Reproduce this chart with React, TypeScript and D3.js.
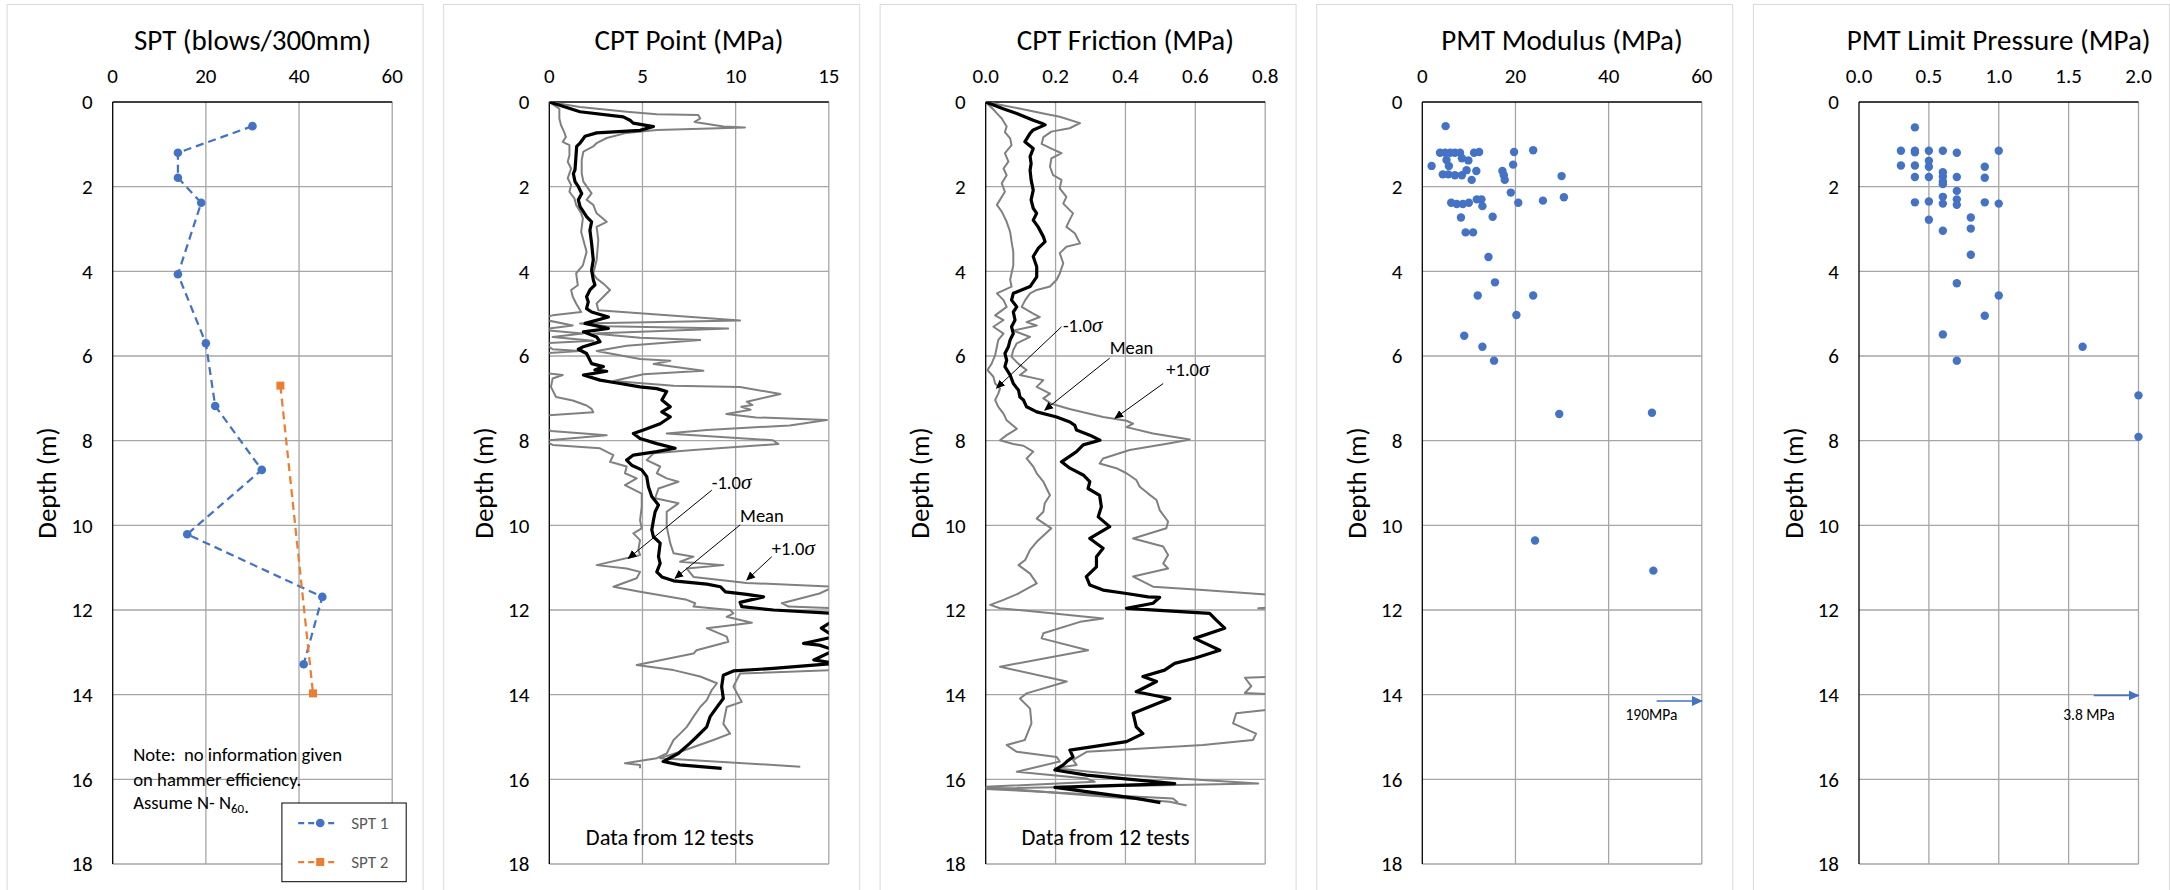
import React, { useEffect } from 'react';
import * as d3 from 'd3';

// ---------------- DATA ----------------
const depthTicks = [0, 2, 4, 6, 8, 10, 12, 14, 16, 18];
const sptTicks = [0, 20, 40, 60];
const cptPointTicks = [0, 5, 10, 15];
const cptFrictionTicks = [0, 0.2, 0.4, 0.6, 0.8];
const pmtModTicks = [0, 20, 40, 60];
const pmtLimitTicks = [0, 0.5, 1.0, 1.5, 2.0];

// [value, depth]
const spt1 = [[30, 0.57], [14, 1.2], [14, 1.79], [19, 2.38], [14, 4.07], [20, 5.7], [22, 7.18], [32, 8.69], [16, 10.21], [45, 11.69], [41, 13.28]];
const spt2 = [[36, 6.7], [43, 13.97]];

const cptPointMean = [[0, 0], [1.65, 0.23], [3.97, 0.35], [4.33, 0.43], [4.5, 0.5], [5.59, 0.58], [4.87, 0.67], [2.54, 0.73], [1.92, 0.81], [1.65, 0.97], [1.47, 1.05], [1.43, 1.29], [1.38, 1.6], [1.29, 1.69], [1.38, 1.88], [1.56, 2.0], [1.74, 2.16], [1.56, 2.31], [1.65, 2.47], [2.0, 2.71], [2.27, 2.83], [2.18, 3.03], [2.27, 3.34], [2.36, 3.73], [2.27, 3.97], [2.36, 4.2], [2.45, 4.32], [2.18, 4.44], [2.0, 4.6], [2.09, 4.72], [2.0, 4.88], [2.27, 4.96], [3.17, 5.08], [1.92, 5.23], [3.17, 5.35], [1.83, 5.43], [2.54, 5.55], [2.72, 5.66], [1.83, 5.78], [1.56, 5.84], [2.0, 5.94], [2.27, 6.18], [2.9, 6.25], [2.45, 6.33], [3.08, 6.36], [1.83, 6.45], [2.72, 6.57], [3.8, 6.65], [4.87, 6.73], [5.77, 6.77], [6.3, 6.84], [6.04, 7.04], [6.49, 7.2], [6.04, 7.32], [6.49, 7.44], [5.95, 7.6], [5.05, 7.75], [4.51, 7.83], [4.87, 7.95], [5.77, 8.07], [6.75, 8.18], [5.76, 8.26], [4.51, 8.34], [4.15, 8.46], [4.42, 8.58], [4.96, 8.69], [5.23, 8.85], [5.32, 9.09], [5.5, 9.32], [5.86, 9.52], [5.68, 9.68], [5.59, 9.88], [5.5, 10.11], [5.59, 10.27], [5.95, 10.42], [5.86, 10.74], [5.95, 10.9], [5.77, 11.1], [6.04, 11.22], [6.67, 11.31], [8.46, 11.39], [9.18, 11.45], [9.45, 11.57], [10.6, 11.63], [11.5, 11.69], [10.24, 11.82], [10.33, 11.92], [12.03, 12.0], [15.3, 12.08], [15.3, 12.24], [14.6, 12.43], [15.3, 12.63], [13.64, 12.79], [14.5, 12.83], [15.3, 12.95], [14.2, 13.18], [15.3, 13.26], [12.03, 13.38], [9.88, 13.44], [9.34, 13.54], [9.25, 13.81], [9.34, 14.09], [9.07, 14.25], [8.63, 14.52], [8.45, 14.76], [7.9, 15.0], [7.54, 15.15], [6.92, 15.39], [6.11, 15.58], [7.0, 15.66], [9.25, 15.74]];

const cptPointPlus = [[0, 0], [1.65, 0.12], [4.15, 0.23], [5.77, 0.29], [8.0, 0.31], [8.1, 0.39], [7.8, 0.47], [9.35, 0.58], [10.5, 0.6], [5.77, 0.66], [4.15, 0.73], [3.08, 0.85], [2.54, 0.97], [2.36, 1.05], [1.83, 1.17], [1.74, 1.37], [1.74, 1.69], [1.83, 1.88], [2.27, 2.16], [2.0, 2.31], [2.36, 2.43], [2.54, 2.63], [3.08, 2.83], [2.54, 2.95], [2.63, 3.26], [2.54, 3.73], [2.36, 4.05], [2.54, 4.17], [2.9, 4.29], [3.26, 4.44], [2.9, 4.6], [2.54, 4.76], [2.63, 4.92], [10.24, 5.16], [1.65, 5.23], [3.08, 5.3], [9.6, 5.35], [2.36, 5.47], [4.87, 5.57], [8.1, 5.62], [4.15, 5.76], [2.54, 5.88], [4.87, 6.07], [6.5, 6.11], [5.6, 6.19], [8.27, 6.35], [5.05, 6.43], [3.44, 6.59], [6.67, 6.7], [10.24, 6.73], [12.4, 6.9], [10.6, 7.08], [10.9, 7.16], [10.3, 7.2], [10.8, 7.27], [9.5, 7.37], [11.1, 7.45], [14.9, 7.51], [12.9, 7.64], [8.45, 7.75], [6.3, 7.83], [12.0, 7.99], [12.3, 8.08], [7.74, 8.22], [5.59, 8.3], [5.23, 8.46], [5.95, 8.61], [5.77, 8.77], [6.3, 8.89], [6.93, 8.97], [5.86, 9.13], [5.68, 9.36], [6.93, 9.48], [6.3, 9.68], [6.3, 10.03], [6.49, 10.42], [6.67, 10.66], [7.74, 10.74], [7.02, 10.86], [9.34, 10.94], [7.38, 11.02], [7.74, 11.22], [10.6, 11.36], [15.3, 11.45], [14.5, 11.61], [12.48, 11.84], [12.84, 11.92], [15.5, 11.96], [16, 12.5], [16, 13.3], [15.3, 13.42], [10.24, 13.5], [9.88, 13.81], [10.33, 14.17], [9.52, 14.29], [9.34, 14.69], [9.7, 14.92], [8.81, 15.07], [7.02, 15.35], [5.95, 15.5], [13.47, 15.7]];

const cptPointMinus = [[0, 0], [0.54, 0.16], [0.54, 0.39], [0.63, 0.55], [0.8, 0.71], [0.89, 0.83], [0.72, 0.94], [1.08, 1.02], [1.08, 1.26], [0.99, 1.41], [1.17, 1.57], [0.99, 1.8], [1.17, 1.96], [1.08, 2.12], [1.35, 2.28], [1.44, 2.43], [1.71, 2.63], [1.8, 2.75], [1.71, 3.07], [2.0, 3.54], [1.8, 3.86], [1.44, 4.05], [1.53, 4.33], [1.17, 4.44], [1.26, 4.6], [1.44, 4.76], [1.71, 4.96], [0.18, 5.04], [-0.5, 5.12], [1.26, 5.28], [-0.5, 5.38], [1.8, 5.47], [0.18, 5.55], [2.36, 5.64], [-0.3, 5.7], [0.18, 5.84], [1.65, 5.88], [-0.5, 5.94], [-0.8, 6.2], [-0.3, 6.4], [0.72, 6.45], [0.18, 6.53], [0.09, 6.73], [0.36, 6.97], [1.26, 7.05], [2.0, 7.17], [2.27, 7.25], [2.36, 7.33], [-0.3, 7.41], [-0.8, 7.6], [0.09, 7.77], [3.08, 7.87], [-0.3, 8.0], [0.18, 8.1], [2.72, 8.18], [3.44, 8.34], [3.26, 8.5], [4.15, 8.61], [4.06, 8.77], [4.69, 8.89], [4.06, 9.05], [4.96, 9.25], [4.96, 9.56], [4.87, 9.88], [4.96, 10.07], [4.51, 10.19], [4.87, 10.35], [4.78, 10.58], [4.87, 10.7], [2.54, 10.94], [4.15, 11.02], [4.87, 11.1], [4.69, 11.25], [3.44, 11.45], [4.87, 11.57], [7.38, 11.76], [7.83, 11.84], [7.74, 11.92], [9.7, 12.0], [9.88, 12.08], [9.52, 12.16], [10.87, 12.3], [8.45, 12.43], [9.52, 12.63], [9.61, 12.75], [7.9, 12.95], [7.74, 13.03], [4.69, 13.3], [6.67, 13.42], [8.1, 13.57], [9.0, 13.73], [8.72, 13.89], [8.45, 14.13], [8.1, 14.29], [7.74, 14.52], [7.38, 14.76], [7.02, 14.92], [6.67, 15.07], [6.3, 15.39], [5.77, 15.5], [4.06, 15.62], [4.87, 15.66], [4.87, 15.74]];

const frictionMean = [[0, 0], [0.05, 0.16], [0.089, 0.27], [0.136, 0.43], [0.16, 0.5], [0.17, 0.54], [0.136, 0.66], [0.127, 0.74], [0.112, 0.94], [0.136, 1.1], [0.127, 1.29], [0.13, 1.45], [0.127, 1.61], [0.13, 1.84], [0.136, 2.08], [0.13, 2.31], [0.136, 2.51], [0.146, 2.63], [0.136, 2.79], [0.15, 2.95], [0.165, 3.18], [0.17, 3.3], [0.15, 3.46], [0.136, 3.65], [0.146, 3.89], [0.146, 4.13], [0.127, 4.36], [0.079, 4.52], [0.074, 4.68], [0.089, 4.84], [0.079, 4.96], [0.084, 5.15], [0.074, 5.31], [0.079, 5.47], [0.07, 5.62], [0.065, 5.78], [0.055, 5.94], [0.06, 6.1], [0.055, 6.25], [0.07, 6.45], [0.079, 6.65], [0.094, 6.81], [0.098, 6.97], [0.108, 7.04], [0.117, 7.2], [0.146, 7.32], [0.203, 7.44], [0.241, 7.56], [0.255, 7.64], [0.26, 7.75], [0.298, 7.87], [0.327, 7.99], [0.279, 8.1], [0.26, 8.26], [0.217, 8.5], [0.241, 8.65], [0.279, 8.81], [0.298, 8.97], [0.293, 9.13], [0.326, 9.29], [0.331, 9.56], [0.322, 9.8], [0.355, 10.03], [0.298, 10.31], [0.336, 10.54], [0.317, 10.74], [0.317, 10.98], [0.288, 11.21], [0.298, 11.41], [0.336, 11.53], [0.403, 11.61], [0.465, 11.69], [0.498, 11.7], [0.479, 11.84], [0.403, 11.96], [0.641, 12.08], [0.66, 12.24], [0.684, 12.43], [0.598, 12.67], [0.67, 12.95], [0.598, 13.14], [0.541, 13.26], [0.512, 13.42], [0.45, 13.57], [0.489, 13.69], [0.431, 13.93], [0.527, 14.09], [0.422, 14.44], [0.431, 14.76], [0.45, 14.92], [0.403, 15.11], [0.241, 15.31], [0.25, 15.47], [0.232, 15.58], [0.222, 15.66], [0.198, 15.78], [0.289, 15.9], [0.541, 16.1], [0.198, 16.19], [0.431, 16.45], [0.5, 16.55]];

const frictionPlus = [[0, 0], [0.1, 0.16], [0.165, 0.27], [0.212, 0.35], [0.27, 0.5], [0.24, 0.62], [0.188, 0.7], [0.165, 0.83], [0.16, 0.99], [0.188, 1.1], [0.217, 1.21], [0.188, 1.33], [0.184, 1.53], [0.193, 1.73], [0.217, 1.84], [0.212, 2.04], [0.231, 2.24], [0.222, 2.4], [0.25, 2.63], [0.24, 2.79], [0.231, 2.95], [0.255, 3.1], [0.27, 3.34], [0.231, 3.42], [0.212, 3.57], [0.222, 3.81], [0.212, 4.05], [0.203, 4.2], [0.184, 4.36], [0.146, 4.44], [0.127, 4.52], [0.113, 4.68], [0.103, 4.84], [0.136, 5.0], [0.155, 5.08], [0.117, 5.2], [0.146, 5.28], [0.079, 5.4], [0.127, 5.55], [0.089, 5.7], [0.079, 5.86], [0.074, 6.02], [0.093, 6.18], [0.117, 6.33], [0.098, 6.45], [0.165, 6.57], [0.146, 6.73], [0.184, 6.89], [0.165, 7.0], [0.188, 7.13], [0.24, 7.25], [0.336, 7.44], [0.403, 7.53], [0.422, 7.6], [0.403, 7.68], [0.479, 7.83], [0.584, 7.97], [0.527, 8.06], [0.412, 8.22], [0.336, 8.42], [0.326, 8.54], [0.374, 8.65], [0.403, 8.77], [0.431, 8.93], [0.441, 9.09], [0.465, 9.25], [0.489, 9.4], [0.498, 9.64], [0.522, 9.91], [0.517, 10.07], [0.422, 10.31], [0.508, 10.5], [0.522, 10.7], [0.508, 10.9], [0.522, 11.02], [0.422, 11.21], [0.479, 11.45], [0.622, 11.53], [0.85, 11.66], [0.9, 11.9], [0.78, 11.96], [0.9, 12.02], [0.95, 12.8], [0.85, 13.57], [0.742, 13.6], [0.76, 13.8], [0.742, 13.96], [0.85, 14.0], [0.9, 14.2], [0.85, 14.32], [0.717, 14.44], [0.708, 14.68], [0.774, 14.92], [0.765, 15.07], [0.622, 15.19], [0.289, 15.35], [0.25, 15.54], [0.26, 15.66], [0.198, 15.74], [0.393, 15.9], [0.78, 16.1], [-0.02, 16.22], [0.536, 16.45], [0.55, 16.55]];

const frictionMinus = [[0, 0], [0.02, 0.16], [0.032, 0.27], [0.046, 0.39], [0.06, 0.58], [0.055, 0.71], [0.07, 0.86], [0.074, 1.02], [0.055, 1.21], [0.065, 1.41], [0.051, 1.57], [0.06, 1.73], [0.046, 1.92], [0.055, 2.12], [0.032, 2.43], [0.046, 2.59], [0.06, 2.83], [0.07, 3.07], [0.074, 3.3], [0.079, 3.54], [0.079, 3.86], [0.07, 4.2], [0.074, 4.36], [0.032, 4.52], [0.051, 4.68], [0.06, 4.84], [0.027, 5.04], [0.051, 5.15], [0.022, 5.31], [0.051, 5.47], [0.036, 5.62], [0.032, 5.78], [0.027, 5.98], [0.017, 6.18], [0.005, 6.33], [0.022, 6.49], [0.027, 6.65], [0.041, 6.77], [0.036, 6.89], [0.027, 7.04], [0.036, 7.2], [0.051, 7.36], [0.06, 7.52], [0.089, 7.72], [0.06, 7.87], [0.041, 7.99], [0.079, 8.08], [0.108, 8.12], [0.136, 8.26], [0.117, 8.42], [0.136, 8.61], [0.146, 8.77], [0.165, 8.97], [0.184, 9.29], [0.169, 9.48], [0.165, 9.68], [0.146, 9.84], [0.188, 10.07], [0.146, 10.39], [0.127, 10.58], [0.113, 10.82], [0.094, 10.94], [0.127, 11.14], [0.146, 11.37], [0.094, 11.61], [0.051, 11.76], [0.013, 11.88], [0.041, 11.96], [0.146, 12.04], [0.336, 12.2], [0.27, 12.28], [0.165, 12.55], [0.16, 12.67], [0.293, 12.95], [0.041, 13.34], [0.232, 13.69], [0.117, 13.97], [0.098, 14.09], [0.127, 14.33], [0.131, 14.68], [0.112, 15.07], [0.06, 15.19], [0.089, 15.35], [0.203, 15.47], [0.212, 15.58], [0.089, 15.82], [0.289, 15.98], [0.312, 16.06], [-0.01, 16.18], [0.527, 16.53], [0.575, 16.62]];

const pmtModulus = [[5.0, 0.57], [3.8, 1.2], [4.9, 1.2], [6.0, 1.2], [7.0, 1.2], [8.1, 1.2], [11.1, 1.2], [12.2, 1.18], [19.7, 1.18], [23.8, 1.14], [5.2, 1.37], [8.5, 1.33], [9.9, 1.38], [2.0, 1.51], [5.7, 1.51], [19.5, 1.48], [9.5, 1.61], [11.6, 1.63], [17.2, 1.63], [17.5, 1.73], [17.7, 1.84], [29.9, 1.75], [4.4, 1.71], [5.6, 1.71], [7.0, 1.73], [8.5, 1.73], [10.6, 1.84], [19.0, 2.14], [20.6, 2.38], [25.9, 2.33], [30.4, 2.25], [6.2, 2.38], [7.4, 2.41], [8.7, 2.41], [10.0, 2.38], [11.7, 2.3], [12.7, 2.3], [12.9, 2.46], [8.3, 2.73], [15.1, 2.71], [9.3, 3.08], [10.9, 3.08], [14.2, 3.66], [15.6, 4.26], [11.9, 4.57], [23.8, 4.57], [20.2, 5.03], [9.0, 5.52], [12.9, 5.78], [15.4, 6.11], [29.4, 7.37], [49.3, 7.34], [24.2, 10.36], [49.6, 11.07]];

const pmtLimit = [[0.4, 0.6], [0.3, 1.15], [0.4, 1.15], [0.4, 1.19], [0.5, 1.15], [0.6, 1.15], [0.7, 1.2], [1.0, 1.15], [0.3, 1.5], [0.4, 1.5], [0.5, 1.39], [0.5, 1.53], [0.9, 1.53], [0.4, 1.77], [0.5, 1.77], [0.6, 1.66], [0.6, 1.76], [0.6, 1.88], [0.6, 1.94], [0.7, 1.77], [0.9, 1.79], [0.7, 2.1], [0.4, 2.37], [0.5, 2.35], [0.6, 2.24], [0.6, 2.4], [0.7, 2.3], [0.7, 2.43], [0.9, 2.37], [1.0, 2.4], [0.5, 2.78], [0.8, 2.73], [0.8, 2.99], [0.6, 3.04], [0.8, 3.61], [0.7, 4.28], [1.0, 4.57], [0.9, 5.05], [0.6, 5.49], [1.6, 5.78], [0.7, 6.11], [2.0, 6.93], [2.0, 7.91]];

// ---------------- LAYOUT ----------------
const PLOT_TOP = 102;
const PLOT_BOTTOM = 864;
const PLOT_W = 279.5;
const PLOT_LEFTS = [112.7, 549.3, 985.7, 1422.3, 1859];
const FONT = 'Carlito, Calibri, Lato, "Open Sans", sans-serif';
const GRID = '#a6a6a6';
const BLUE = '#4472C4';
const ORANGE = '#ED7D31';
const GREYLINE = '#808080';

type Sc = d3.ScaleLinear<number, number>;

function Panel(props: {
  i: number; title: string; domain: [number, number]; ticks: number[];
  fmt: (v: number) => string; children: (x: Sc, y: Sc) => React.ReactNode;
}) {
  const { i, title, domain, ticks, fmt, children } = props;
  const left = PLOT_LEFTS[i];
  const right = left + PLOT_W;
  const x = d3.scaleLinear().domain(domain).range([left, right]);
  const y = d3.scaleLinear().domain([0, 18]).range([PLOT_TOP, PLOT_BOTTOM]);
  const cx = (left + right) / 2;
  return (
    <g>
      <rect x={left - 105.6} y={4.5} width={416} height={900} fill="#fff" stroke="#d9d9d9" strokeWidth={1} />
      <defs>
        <clipPath id={`clip${i}`}>
          <rect x={left} y={PLOT_TOP} width={PLOT_W} height={PLOT_BOTTOM - PLOT_TOP} />
        </clipPath>
      </defs>
      {ticks.slice(1).map((t) => (
        <line key={`vx${t}`} x1={x(t)} x2={x(t)} y1={PLOT_TOP} y2={PLOT_BOTTOM} stroke={GRID} strokeWidth={1.3} />
      ))}
      {depthTicks.slice(1).map((t) => (
        <line key={`hy${t}`} x1={left} x2={right} y1={y(t)} y2={y(t)} stroke={GRID} strokeWidth={1.3} />
      ))}
      <line x1={left} x2={left} y1={PLOT_TOP} y2={PLOT_BOTTOM} stroke="#000" strokeWidth={1.3} />
      <line x1={left} x2={right} y1={PLOT_TOP} y2={PLOT_TOP} stroke="#000" strokeWidth={1.3} />
      <text x={cx} y={50} textAnchor="middle" fontFamily={FONT} fontSize={29} fill="#000">{title}</text>
      {ticks.map((t) => (
        <text key={`tx${t}`} x={x(t)} y={82.5} textAnchor="middle" fontFamily={FONT} fontSize={21} fill="#000">{fmt(t)}</text>
      ))}
      {depthTicks.map((t) => (
        <text key={`ty${t}`} x={left - 20} y={y(t)} dy="0.35em" textAnchor="end" fontFamily={FONT} fontSize={21} fill="#000">{t}</text>
      ))}
      <text transform={`translate(${left - 56.5},${(PLOT_TOP + PLOT_BOTTOM) / 2}) rotate(-90)`} textAnchor="middle" fontFamily={FONT} fontSize={27} fill="#000">Depth (m)</text>
      {children(x, y)}
    </g>
  );
}

function Sigma({ x, y, label }: { x: number; y: number; label: string }) {
  return (
    <text x={x} y={y} dy="0.35em" fontFamily={FONT} fontSize={18.5} fill="#000">
      {label}<tspan fontFamily="'Liberation Serif', serif" fontStyle="italic" fontSize={21}>σ</tspan>
    </text>
  );
}

type AnnotItem = { label: string; sigma: boolean; tx: number; ty: number; from: number[]; to: number[] };

function Annot({ x, y, items }: { x: Sc; y: Sc; items: AnnotItem[] }) {
  return (
    <g>
      {items.map((a, k) => (
        <g key={k}>
          {a.sigma ? <Sigma x={x(a.tx)} y={y(a.ty)} label={a.label} /> :
            <text x={x(a.tx)} y={y(a.ty)} dy="0.35em" fontFamily={FONT} fontSize={18.5} fill="#000">{a.label}</text>}
          <line x1={x(a.from[0])} y1={y(a.from[1])} x2={x(a.to[0])} y2={y(a.to[1])} stroke="#000" strokeWidth={1} markerEnd="url(#arrBlack)" />
        </g>
      ))}
    </g>
  );
}

const pointAnnot: AnnotItem[] = [
  { label: '-1.0', sigma: true, tx: 8.72, ty: 9.0, from: [8.72, 9.17], to: [4.24, 10.78] },
  { label: 'Mean', sigma: false, tx: 10.24, ty: 9.76, from: [10.24, 9.99], to: [6.75, 11.25] },
  { label: '+1.0', sigma: true, tx: 11.94, ty: 10.54, from: [11.94, 10.74], to: [10.6, 11.29] },
];
const frictionAnnot: AnnotItem[] = [
  { label: '-1.0', sigma: true, tx: 0.221, ty: 5.27, from: [0.217, 5.31], to: [0.031, 6.76] },
  { label: 'Mean', sigma: false, tx: 0.355, ty: 5.81, from: [0.355, 6.05], to: [0.169, 7.28] },
  { label: '+1.0', sigma: true, tx: 0.517, ty: 6.33, from: [0.508, 6.65], to: [0.37, 7.47] },
];

export default function App() {
  useEffect(() => {
    document.body.style.margin = '0';
    document.body.style.overflow = 'hidden';
  }, []);

  const lineGen = (x: Sc, y: Sc) => d3.line<number[]>().x((d) => x(d[0])).y((d) => y(d[1]));

  const f1 = (v: number) => d3.format('d')(v);
  const f2 = (v: number) => d3.format('.1f')(v);

  return (
    <svg width={2170} height={890} style={{ position: 'absolute', left: 0, top: 0, background: '#fff' }}>
      <defs>
        <marker id="arrBlack" viewBox="0 0 10 10" refX="9" refY="5" markerWidth="9" markerHeight="9" orient="auto" markerUnits="userSpaceOnUse">
          <path d="M0,0.5 L10,5 L0,9.5 z" fill="#000" />
        </marker>
        <marker id="arrBlue" viewBox="0 0 10 10" refX="9" refY="5" markerWidth="11" markerHeight="11" orient="auto" markerUnits="userSpaceOnUse">
          <path d="M0,0.5 L10,5 L0,9.5 z" fill={BLUE} />
        </marker>
      </defs>
      <rect x={0} y={0} width={2170} height={890} fill="#fff" />

      {/* SPT */}
      <Panel i={0} title="SPT (blows/300mm)" domain={[0, 60]} ticks={sptTicks} fmt={f1}>
        {(x, y) => {
          const lg = lineGen(x, y);
          const right = x(60);
          return (
            <g>
              <path d={lg(spt1) || ''} fill="none" stroke={BLUE} strokeWidth={2.25} strokeDasharray="8,5" />
              <path d={lg(spt2) || ''} fill="none" stroke={ORANGE} strokeWidth={2.25} strokeDasharray="8,5" />
              {spt1.map((d, k) => <circle key={k} cx={x(d[0])} cy={y(d[1])} r={4.3} fill={BLUE} />)}
              {spt2.map((d, k) => <rect key={k} x={x(d[0]) - 4} y={y(d[1]) - 4} width={8} height={8} fill={ORANGE} />)}
              <text x={x(4.4)} y={y(15.56)} fontFamily={FONT} fontSize={18.7} fill="#000" xmlSpace="preserve">Note:  no information given</text>
              <text x={x(4.4)} y={y(16.15)} fontFamily={FONT} fontSize={18.7} fill="#000">on hammer efficiency.</text>
              <text x={x(4.4)} y={y(16.69)} fontFamily={FONT} fontSize={18.7} fill="#000">Assume N- N<tspan fontSize={13} dy={4}>60</tspan><tspan>.</tspan></text>
              <g>
                <rect x={right - 110.3} y={803} width={124.3} height={78.7} fill="#fff" stroke="#000" strokeWidth={1} />
                <line x1={right - 94} x2={right - 54} y1={823} y2={823} stroke={BLUE} strokeWidth={2.25} strokeDasharray="6,4" />
                <circle cx={right - 72} cy={823} r={4.3} fill={BLUE} />
                <text x={right - 41} y={823} dy="0.35em" fontFamily={FONT} fontSize={17} fill="#595959">SPT 1</text>
                <line x1={right - 94} x2={right - 54} y1={862} y2={862} stroke={ORANGE} strokeWidth={2.25} strokeDasharray="6,4" />
                <rect x={right - 76} y={858} width={8} height={8} fill={ORANGE} />
                <text x={right - 41} y={862} dy="0.35em" fontFamily={FONT} fontSize={17} fill="#595959">SPT 2</text>
              </g>
            </g>
          );
        }}
      </Panel>

      {/* CPT Point */}
      <Panel i={1} title="CPT Point (MPa)" domain={[0, 15]} ticks={cptPointTicks} fmt={f1}>
        {(x, y) => {
          const lg = lineGen(x, y);
          return (
            <g>
              <g clipPath="url(#clip1)">
                <path d={lg(cptPointMinus) || ''} fill="none" stroke={GREYLINE} strokeWidth={2} strokeLinejoin="round" />
                <path d={lg(cptPointPlus) || ''} fill="none" stroke={GREYLINE} strokeWidth={2} strokeLinejoin="round" />
                <path d={lg(cptPointMean) || ''} fill="none" stroke="#000" strokeWidth={3.2} strokeLinejoin="round" />
              </g>
              <Annot x={x} y={y} items={pointAnnot} />
              <text x={x(6.47)} y={y(17.55)} textAnchor="middle" fontFamily={FONT} fontSize={22.5} fill="#000">Data from 12 tests</text>
            </g>
          );
        }}
      </Panel>

      {/* CPT Friction */}
      <Panel i={2} title="CPT Friction (MPa)" domain={[0, 0.8]} ticks={cptFrictionTicks} fmt={f2}>
        {(x, y) => {
          const lg = lineGen(x, y);
          return (
            <g>
              <g clipPath="url(#clip2)">
                <path d={lg(frictionMinus) || ''} fill="none" stroke={GREYLINE} strokeWidth={2} strokeLinejoin="round" />
                <path d={lg(frictionPlus) || ''} fill="none" stroke={GREYLINE} strokeWidth={2} strokeLinejoin="round" />
                <path d={lg(frictionMean) || ''} fill="none" stroke="#000" strokeWidth={3.2} strokeLinejoin="round" />
              </g>
              <Annot x={x} y={y} items={frictionAnnot} />
              <text x={x(0.343)} y={y(17.55)} textAnchor="middle" fontFamily={FONT} fontSize={22.5} fill="#000">Data from 12 tests</text>
            </g>
          );
        }}
      </Panel>

      {/* PMT Modulus */}
      <Panel i={3} title="PMT Modulus (MPa)" domain={[0, 60]} ticks={pmtModTicks} fmt={f1}>
        {(x, y) => (
          <g>
            {pmtModulus.map((d, k) => <circle key={k} cx={x(d[0])} cy={y(d[1])} r={4.2} fill={BLUE} />)}
            <line x1={x(50.3)} x2={x(60)} y1={y(14.15)} y2={y(14.15)} stroke={BLUE} strokeWidth={1.5} markerEnd="url(#arrBlue)" />
            <text x={x(49.2)} y={y(14.48)} dy="0.35em" textAnchor="middle" fontFamily={FONT} fontSize={15.5} fill="#000">190MPa</text>
          </g>
        )}
      </Panel>

      {/* PMT Limit Pressure */}
      <Panel i={4} title="PMT Limit Pressure (MPa)" domain={[0, 2]} ticks={pmtLimitTicks} fmt={f2}>
        {(x, y) => (
          <g>
            {pmtLimit.map((d, k) => <circle key={k} cx={x(d[0])} cy={y(d[1])} r={4.2} fill={BLUE} />)}
            <line x1={x(1.68)} x2={x(2.0)} y1={y(14.02)} y2={y(14.02)} stroke={BLUE} strokeWidth={1.5} markerEnd="url(#arrBlue)" />
            <text x={x(1.645)} y={y(14.48)} dy="0.35em" textAnchor="middle" fontFamily={FONT} fontSize={15.5} fill="#000">3.8 MPa</text>
          </g>
        )}
      </Panel>
    </svg>
  );
}
